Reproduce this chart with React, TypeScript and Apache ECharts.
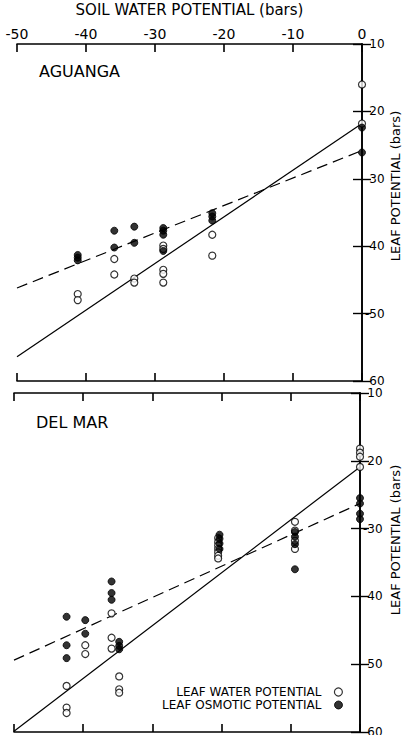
import React, { useEffect, useRef } from "react";
import * as echarts from "echarts";

const xTicks = [-50, -40, -30, -20, -10, 0];
const yTicks = [-60, -50, -40, -30, -20, -10];

// AGUANGA
const aguangaWater = [
  [0, -16.0], [0, -21.8],
  [-41.2, -47.1], [-41.2, -48.0],
  [-35.9, -41.9], [-35.9, -44.2],
  [-33.0, -44.8], [-33.0, -45.4],
  [-28.8, -39.9], [-28.8, -40.4], [-28.8, -43.5], [-28.8, -44.1], [-28.8, -45.4],
  [-21.7, -38.3], [-21.7, -41.4],
];
const aguangaOsmotic = [
  [0, -22.4], [0, -26.1],
  [-41.2, -41.3], [-41.2, -41.7], [-41.2, -42.1],
  [-35.9, -37.7], [-35.9, -40.2],
  [-33.0, -37.1], [-33.0, -39.5],
  [-28.8, -37.3], [-28.8, -37.7], [-28.8, -38.3], [-28.8, -40.7],
  [-21.7, -35.1], [-21.7, -35.6], [-21.7, -36.2],
];
const aguangaWaterFit = [[-50, -56.4], [0, -21.8]];
const aguangaOsmoticFit = [[-50, -46.2], [0, -25.8]];

// DEL MAR
const delMarWater = [
  [0, -18.2], [0, -18.8], [0, -19.4], [0, -20.9],
  [-9.4, -29.0], [-9.4, -30.3], [-9.4, -31.8], [-9.4, -33.0],
  [-20.5, -31.4], [-20.5, -32.0], [-20.5, -32.5], [-20.5, -33.0], [-20.5, -33.5], [-20.5, -34.0], [-20.5, -34.4],
  [-42.4, -53.2], [-42.4, -56.4], [-42.4, -57.2],
  [-39.7, -47.2], [-39.7, -48.5],
  [-35.9, -42.5], [-35.9, -46.1], [-35.9, -47.7],
  [-34.8, -51.8], [-34.8, -53.7], [-34.8, -54.2],
];
const delMarOsmotic = [
  [0, -25.5], [0, -26.3], [0, -27.8], [0, -28.6],
  [-9.4, -30.5], [-9.4, -31.2], [-9.4, -32.3], [-9.4, -36.0],
  [-20.3, -30.9], [-20.3, -31.5], [-20.3, -32.2], [-20.3, -33.0],
  [-42.4, -43.0], [-42.4, -47.2], [-42.4, -49.1],
  [-39.7, -43.5], [-39.7, -45.5],
  [-35.9, -37.8], [-35.9, -39.5], [-35.9, -40.5],
  [-34.8, -46.7], [-34.8, -47.3], [-34.8, -47.8],
];
const delMarWaterFit = [[-50, -59.9], [0, -20.9]];
const delMarOsmoticFit = [[-50, -49.4], [0, -26.3]];

const WATER = "LEAF WATER POTENTIAL";
const OSMOTIC = "LEAF OSMOTIC POTENTIAL";
const Y_NAME = "LEAF POTENTIAL (bars)";
const FONT = "DejaVu Sans";

export default function App() {
  const ref = useRef<HTMLDivElement>(null);
  useEffect(() => {
    if (!ref.current) return;
    const chart = echarts.init(ref.current, null, { renderer: "svg" });
    const axisLine = { show: true, lineStyle: { color: "#000", width: 1.6 } };
    const xBase = (gridIndex: number, position: string, labels: boolean, name?: string) => ({
      type: "value",
      gridIndex,
      position,
      min: xTicks[0],
      max: xTicks[xTicks.length - 1],
      interval: 10,
      axisLine,
      axisTick: { show: true, inside: true, length: 8, lineStyle: { color: "#000", width: 1.6 } },
      axisLabel: { show: labels, color: "#000", fontSize: 14, fontFamily: FONT, margin: 3 },
      splitLine: { show: false },
      name: name || "",
      nameLocation: "middle",
      nameGap: 27,
      nameTextStyle: { color: "#000", fontSize: 15, fontFamily: FONT },
    });
    const yBase = (gridIndex: number, position: string, labels: boolean) => ({
      type: "value",
      gridIndex,
      position,
      min: yTicks[0],
      max: yTicks[yTicks.length - 1],
      interval: 10,
      axisLine,
      axisTick: { show: true, inside: true, length: 9, lineStyle: { color: "#000", width: 1.4 } },
      axisLabel: {
        show: labels, color: "#000", fontSize: 12, fontFamily: FONT, margin: 3, lineHeight: 11,
        formatter: (v: number) => (v < 0 ? "-" + Math.abs(v) : String(v)),
      },
      splitLine: { show: false },
    });
    const open = { color: "#fff", borderColor: "#000", borderWidth: 1.2 };
    const filled = { color: "#000", borderColor: "#000", borderWidth: 1 };
    const scatter = (name: string, data: number[][], idx: number, style: any) => ({
      type: "scatter",
      name,
      data,
      xAxisIndex: idx * 2,
      yAxisIndex: idx * 2,
      symbol: "circle",
      symbolSize: 7,
      itemStyle: style,
      z: 3,
    });
    const line = (data: number[][], idx: number, dashed: boolean) => ({
      type: "line",
      data,
      xAxisIndex: idx * 2,
      yAxisIndex: idx * 2,
      symbol: "none",
      lineStyle: { color: "#000", width: 1.2, type: dashed ? [11, 6] : "solid" },
      z: 2,
    });
    const legendBase = {
      orient: "vertical",
      right: 59,
      align: "right",
      itemWidth: 8,
      itemHeight: 8,
      itemGap: 2,
      padding: 0,
      textStyle: { color: "#000", fontSize: 12, fontFamily: FONT, lineHeight: 12, padding: [0, 8, 0, 0] },
      selectedMode: false,
    };
    const gridCommon = { containLabel: false, outerBoundsMode: "none" };
    chart.setOption({
      animation: false,
      backgroundColor: "#fff",
      grid: [
        { ...gridCommon, left: 17, top: 44, width: 345, height: 337 },
        { ...gridCommon, left: 14, top: 393, width: 346, height: 339 },
      ],
      xAxis: [
        xBase(0, "top", true, "SOIL WATER POTENTIAL (bars)"),
        xBase(0, "bottom", false),
        xBase(1, "top", false),
        xBase(1, "bottom", false),
      ],
      yAxis: [
        yBase(0, "right", true),
        yBase(0, "left", false),
        yBase(1, "right", true),
        yBase(1, "left", false),
      ],
      legend: [
        { ...legendBase, top: 686, data: [{ name: WATER, icon: "circle", itemStyle: open }] },
        { ...legendBase, top: 699, data: [{ name: OSMOTIC, icon: "circle", itemStyle: filled }] },
      ],
      graphic: [
        { type: "text", left: 39, top: 63, style: { text: "AGUANGA", font: `16px ${FONT}`, fill: "#000" } },
        { type: "text", left: 36, top: 414, style: { text: "DEL MAR", font: `16px ${FONT}`, fill: "#000" } },
        {
          type: "text", x: 395, y: 186, rotation: Math.PI / 2,
          style: { text: Y_NAME, font: `13px ${FONT}`, fill: "#000", align: "center", verticalAlign: "middle" },
        },
        {
          type: "text", x: 395, y: 540, rotation: Math.PI / 2,
          style: { text: Y_NAME, font: `13px ${FONT}`, fill: "#000", align: "center", verticalAlign: "middle" },
        },
      ],
      series: [
        line(aguangaWaterFit, 0, false),
        line(aguangaOsmoticFit, 0, true),
        scatter(WATER, aguangaWater, 0, open),
        scatter(OSMOTIC, aguangaOsmotic, 0, filled),
        line(delMarWaterFit, 1, false),
        line(delMarOsmoticFit, 1, true),
        scatter(WATER, delMarWater, 1, open),
        scatter(OSMOTIC, delMarOsmotic, 1, filled),
      ],
    });
    return () => chart.dispose();
  }, []);
  return <div ref={ref} style={{ width: 402, height: 735, position: "absolute", left: 0, top: 0 }} />;
}
